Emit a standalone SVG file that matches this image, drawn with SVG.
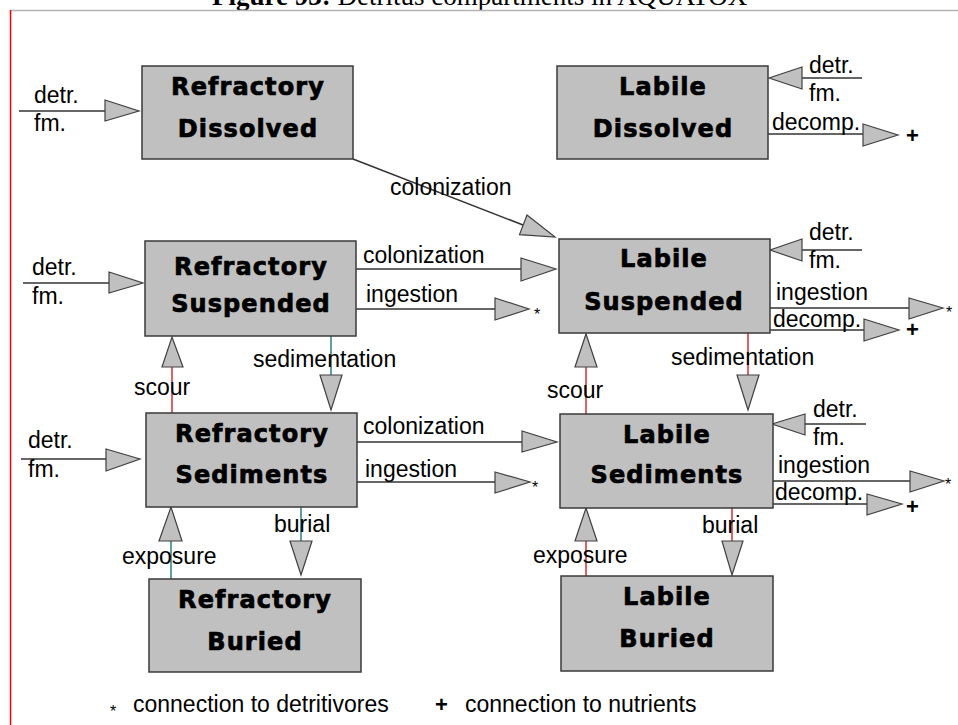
<svg xmlns="http://www.w3.org/2000/svg" width="958" height="725" viewBox="0 0 958 725">
<style>
.box{fill:#c0c0c0;stroke:#3a3a3a;stroke-width:1.5}
.bt{font-family:"DejaVu Sans",sans-serif;font-weight:bold;font-size:24px;letter-spacing:1.1px;text-anchor:middle;fill:#000;stroke:#000;stroke-width:0.7px}
.lb{font-family:"Liberation Sans",Arial,sans-serif;font-size:23px;fill:#000}
.ln{stroke:#333;stroke-width:1.5;fill:none}
.lr{stroke:#d03030;stroke-width:1.5;fill:none}
.lt{stroke:#2a7f7f;stroke-width:1.5;fill:none}
.ar{fill:#c0c0c0;stroke:#404040;stroke-width:1.2}
.st{font-family:"Liberation Sans",Arial,sans-serif;font-size:16px;fill:#000}
.pl{font-family:"Liberation Sans",Arial,sans-serif;font-size:22px;font-weight:bold;fill:#000}
</style>
<rect x="0" y="0" width="958" height="725" fill="#fff"/>
<text x="212" y="5" font-family="'Liberation Serif','Times New Roman',serif" font-size="27" fill="#000"><tspan font-weight="bold">Figure 93:</tspan> Detritus compartments in AQUATOX</text>
<line x1="10" y1="10.5" x2="958" y2="10.5" stroke="#b4b4b4" stroke-width="1.5"/>
<line x1="10.5" y1="10" x2="10.5" y2="725" stroke="#ff0000" stroke-width="1.5"/>

<g id="connectors">
  <line class="ln" x1="19" y1="111" x2="105" y2="111"/>
  <polygon class="ar" points="105,100 105,121 139,111"/>
  <line class="ln" x1="23" y1="283" x2="109" y2="283"/>
  <polygon class="ar" points="109,272 109,293 143,283"/>
  <line class="ln" x1="21" y1="459" x2="106" y2="459"/>
  <polygon class="ar" points="106,449 106,471 140,459"/>
  <line class="ln" x1="862" y1="78" x2="802" y2="78"/>
  <polygon class="ar" points="802,67 802,89 769,78"/>
  <line class="ln" x1="862" y1="250" x2="802" y2="250"/>
  <polygon class="ar" points="802,239 802,261 770,250"/>
  <line class="ln" x1="866" y1="424" x2="805" y2="424"/>
  <polygon class="ar" points="805,414 805,435 772,424"/>
  <line class="ln" x1="768" y1="134" x2="863" y2="134"/>
  <polygon class="ar" points="863,124 863,146 898,135"/>
  <line class="ln" x1="770" y1="308" x2="909" y2="308"/>
  <polygon class="ar" points="909,298 909,319 943,308"/>
  <line class="ln" x1="770" y1="330" x2="864" y2="330"/>
  <polygon class="ar" points="864,319 864,341 899,330"/>
  <line class="ln" x1="773" y1="481" x2="910" y2="481"/>
  <polygon class="ar" points="910,471 910,492 944,481"/>
  <line class="ln" x1="773" y1="504" x2="867" y2="504"/>
  <polygon class="ar" points="867,494 867,515 902,504"/>
  <line class="ln" x1="353" y1="159" x2="523" y2="225"/>
  <polygon class="ar" points="527,215 519.5,234.6 555,237"/>
  <line class="ln" x1="356" y1="269" x2="521" y2="269"/>
  <polygon class="ar" points="521,258 521,281 556,269"/>
  <line class="ln" x1="356" y1="309" x2="495" y2="309"/>
  <polygon class="ar" points="495,298 495,320 529,309"/>
  <line class="ln" x1="357" y1="442" x2="522" y2="442"/>
  <polygon class="ar" points="522,431 522,452 557,442"/>
  <line class="ln" x1="357" y1="482" x2="495" y2="482"/>
  <polygon class="ar" points="495,472 495,493 530,482"/>
  <line class="lr" x1="172" y1="413" x2="172" y2="367"/>
  <polygon class="ar" points="162,367 183,367 172,337"/>
  <line class="lt" x1="331" y1="336" x2="331" y2="375"/>
  <polygon class="ar" points="320,375 342,375 331,410"/>
  <line class="lr" x1="586" y1="414" x2="586" y2="367"/>
  <polygon class="ar" points="575,367 597,367 586,334"/>
  <line class="lr" x1="748" y1="333" x2="748" y2="375"/>
  <polygon class="ar" points="737,375 759,375 748,410"/>
  <line class="lt" x1="171" y1="579" x2="171" y2="541"/>
  <polygon class="ar" points="159,541 182,541 171,507"/>
  <line class="lt" x1="301" y1="507" x2="301" y2="541"/>
  <polygon class="ar" points="290,541 312,541 301,575"/>
  <line class="lr" x1="586" y1="576" x2="586" y2="541"/>
  <polygon class="ar" points="575,541 597,541 586,508"/>
  <line class="lr" x1="732" y1="508" x2="732" y2="541"/>
  <polygon class="ar" points="722,541 743,541 732,575"/>
</g>

<g id="labels">
  <text class="lb" x="34" y="103">detr.</text>
  <text class="lb" x="34" y="131">fm.</text>
  <text class="lb" x="32" y="275">detr.</text>
  <text class="lb" x="32" y="304">fm.</text>
  <text class="lb" x="28" y="448">detr.</text>
  <text class="lb" x="28" y="477">fm.</text>
  <text class="lb" x="809" y="73">detr.</text>
  <text class="lb" x="809" y="101">fm.</text>
  <text class="lb" x="809" y="240">detr.</text>
  <text class="lb" x="809" y="268">fm.</text>
  <text class="lb" x="813" y="417">detr.</text>
  <text class="lb" x="813" y="445">fm.</text>
  <text class="lb" x="772" y="130">decomp.</text>
  <text class="pl" x="906" y="143">+</text>
  <text class="lb" x="776" y="300">ingestion</text>
  <text class="st" x="946" y="318">*</text>
  <text class="lb" x="773" y="327">decomp.</text>
  <text class="pl" x="906" y="337">+</text>
  <text class="lb" x="778" y="473">ingestion</text>
  <text class="st" x="945" y="490">*</text>
  <text class="lb" x="775" y="500">decomp.</text>
  <text class="pl" x="906" y="514">+</text>
  <text class="lb" x="390" y="195">colonization</text>
  <text class="lb" x="363" y="263">colonization</text>
  <text class="lb" x="366" y="302">ingestion</text>
  <text class="st" x="534" y="320">*</text>
  <text class="lb" x="363" y="434">colonization</text>
  <text class="lb" x="365" y="477">ingestion</text>
  <text class="st" x="532" y="493">*</text>
  <text class="lb" x="134" y="395">scour</text>
  <text class="lb" x="253" y="367">sedimentation</text>
  <text class="lb" x="547" y="398">scour</text>
  <text class="lb" x="671" y="365">sedimentation</text>
  <text class="lb" x="122" y="564">exposure</text>
  <text class="lb" x="274" y="532">burial</text>
  <text class="lb" x="533" y="563">exposure</text>
  <text class="lb" x="702" y="533">burial</text>
</g>

<g id="refractory-dissolved">
  <rect class="box" x="142" y="66" width="211" height="93"/>
  <text class="bt" x="248" y="95">Refractory</text>
  <text class="bt" x="248" y="137">Dissolved</text>
</g>
<g id="labile-dissolved">
  <rect class="box" x="557" y="66" width="211" height="93"/>
  <text class="bt" x="663" y="95">Labile</text>
  <text class="bt" x="663" y="137">Dissolved</text>
</g>
<g id="refractory-suspended">
  <rect class="box" x="145" y="241" width="211" height="95"/>
  <text class="bt" x="251" y="275">Refractory</text>
  <text class="bt" x="251" y="312">Suspended</text>
</g>
<g id="labile-suspended">
  <rect class="box" x="559" y="239" width="211" height="94"/>
  <text class="bt" x="664" y="267">Labile</text>
  <text class="bt" x="664" y="310">Suspended</text>
</g>
<g id="refractory-sediments">
  <rect class="box" x="146" y="413" width="211" height="94"/>
  <text class="bt" x="252" y="442">Refractory</text>
  <text class="bt" x="252" y="483">Sediments</text>
</g>
<g id="labile-sediments">
  <rect class="box" x="560" y="414" width="213" height="94"/>
  <text class="bt" x="667" y="443">Labile</text>
  <text class="bt" x="667" y="483">Sediments</text>
</g>
<g id="refractory-buried">
  <rect class="box" x="149" y="579" width="212" height="93"/>
  <text class="bt" x="255" y="608">Refractory</text>
  <text class="bt" x="255" y="650">Buried</text>
</g>
<g id="labile-buried">
  <rect class="box" x="561" y="576" width="212" height="95"/>
  <text class="bt" x="667" y="605">Labile</text>
  <text class="bt" x="667" y="647">Buried</text>
</g>

<g id="legend">
  <text class="st" x="110" y="717">*</text>
  <text class="lb" x="133" y="712">connection to detritivores</text>
  <text class="pl" x="435" y="712">+</text>
  <text class="lb" x="465" y="712">connection to nutrients</text>
</g>
</svg>
